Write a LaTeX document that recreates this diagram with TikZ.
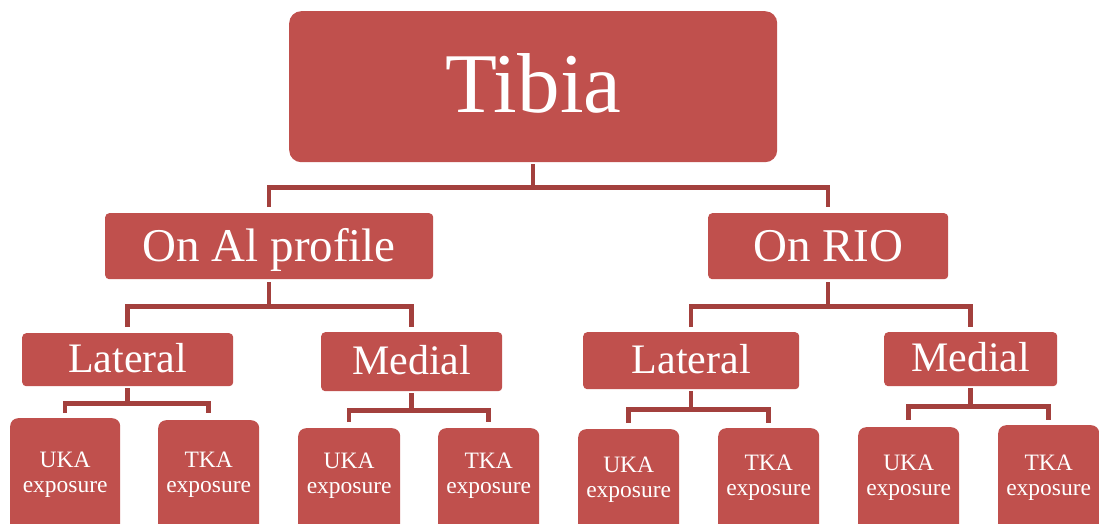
\documentclass[tikz,border=0pt]{standalone}
\usepackage{fontspec}
\setmainfont{Liberation Serif}
\usetikzlibrary{calc}
\definecolor{boxred}{HTML}{C0504D}
\definecolor{linkred}{HTML}{A3403D}
% two centred lines, baseline on the last one
\newcommand{\twolines}[2]{\begin{tabular}[b]{@{}c@{}}#1\\#2\end{tabular}}

\begin{document}
\begin{tikzpicture}[x=1pt,y=-1pt,
  box/.style={rectangle, fill=boxred, text=white, inner sep=0pt,
    anchor=north west, text depth=0pt},
  rootbox/.style={box, rounded corners=12pt, text height=51pt,
    font=\fontsize{85}{92}\selectfont},
  lvlone/.style={box, rounded corners=4pt, text height=31pt,
    font=\fontsize{47}{52}\selectfont},
  lvltwo/.style={box, rounded corners=4pt, text height=25pt,
    font=\fontsize{42}{46}\selectfont},
  leaf/.style={box, rounded corners=8pt, minimum height=120pt,
    font=\fontsize{23.5}{25}\selectfont},
  link/.style={draw=linkred, line width=4.5pt, line join=miter}]

\useasboundingbox (0,0) rectangle (1099,524);
\clip (0,0) rectangle (1099,524);

% root
\node[rootbox, minimum width=488pt, minimum height=151pt] (tibia) at (289,11) {Tibia};

% first level
\node[lvlone, minimum width=328pt, minimum height=66pt] (onal) at (105,213) {On Al profile};
\node[lvlone, minimum width=240pt, minimum height=66pt] (onrio) at (708,213) {On RIO};

% second level
\node[lvltwo, minimum width=211pt, minimum height=53pt] (latL) at (22,333) {Lateral};
\node[lvltwo, minimum width=181pt, minimum height=59pt] (medL) at (321,332) {Medial};
\node[lvltwo, minimum width=216pt, minimum height=57pt] (latR) at (583,332) {Lateral};
\node[lvltwo, minimum width=173pt, minimum height=54pt] (medR) at (884,332) {Medial};

% leaves (they run past the lower edge)
\node[leaf, minimum width=110pt, text height=28pt] (ukaA) at (10,418) {\twolines{UKA}{exposure}};
\node[leaf, minimum width=101pt, text height=24pt] (tkaA) at (158,420) {\twolines{TKA}{exposure}};
\node[leaf, minimum width=102pt, text height=10pt] (ukaB) at (298,428) {\twolines{UKA}{exposure}};
\node[leaf, minimum width=101pt, text height=10pt] (tkaB) at (438,428) {\twolines{TKA}{exposure}};
\node[leaf, minimum width=101pt, text height=16pt] (ukaC) at (578,429) {\twolines{UKA}{exposure}};
\node[leaf, minimum width=101pt, text height=14pt] (tkaC) at (718,428) {\twolines{TKA}{exposure}};
\node[leaf, minimum width=101pt, text height=16pt] (ukaD) at (858,427) {\twolines{UKA}{exposure}};
\node[leaf, minimum width=101pt, text height=20pt] (tkaD) at (998,425) {\twolines{TKA}{exposure}};

% branch points below each parent
\path (tibia.south) ++(0,25) coordinate (j0);
\path (onal.south)  ++(0,27) coordinate (j1);
\path (onrio.south) ++(0,27) coordinate (j2);
\path (latL.south)  ++(0,17) coordinate (j3);
\path (medL.south)  ++(0,19) coordinate (j4);
\path (latR.south)  ++(0,20) coordinate (j5);
\path (medR.south)  ++(0,20) coordinate (j6);

% connectors
\draw[link] ([yshift=-2pt]tibia.south) -- (j0);
\draw[link] ($(onal.north)+(0,-6)$) |- (j0) -| ($(onrio.north)+(0,-6)$);

\draw[link] ([yshift=-3pt]onal.south) -- (j1);
\draw[link] ($(latL.north)+(0,-6)$) |- (j1) -| ($(medL.north)+(0,-5)$);

\draw[link] ([yshift=-3pt]onrio.south) -- (j2);
\draw[link] ($(latR.north)+(0,-5)$) |- (j2) -| ($(medR.north)+(0,-5)$);

\draw[link] ([yshift=-2pt]latL.south) -- (j3);
\draw[link] ($(ukaA.north)+(0,-5)$) |- (j3) -| ($(tkaA.north)+(0,-7)$);

\draw[link] ([yshift=-2pt]medL.south) -- (j4);
\draw[link] ($(ukaB.north)+(0,-6)$) |- (j4) -| ($(tkaB.north)+(0,-6)$);

\draw[link] ([yshift=-2pt]latR.south) -- (j5);
\draw[link] ($(ukaC.north)+(0,-6)$) |- (j5) -| ($(tkaC.north)+(0,-5)$);

\draw[link] ([yshift=-2pt]medR.south) -- (j6);
\draw[link] ($(ukaD.north)+(0,-7)$) |- (j6) -| ($(tkaD.north)+(0,-5)$);
\end{tikzpicture}
\end{document}
